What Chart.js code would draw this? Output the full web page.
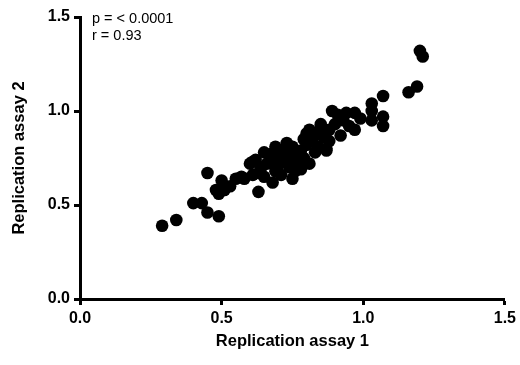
<!DOCTYPE html>
<html>
<head>
<meta charset="utf-8">
<script src="https://cdn.jsdelivr.net/npm/chart.js@4"></script>
<style>
  html, body { margin: 0; padding: 0; background: #fff; }
  #wrap { width: 520px; height: 365px; }
</style>
</head>
<body>
<div id="wrap"><canvas id="grafico"></canvas></div>
<script>
// valores
const assay1 = [0.29, 0.34, 0.40, 0.43, 0.45, 0.49, 0.45, 0.50, 0.48, 0.49, 0.51, 0.53, 0.55, 0.58, 0.61, 0.63,
  0.61, 0.62, 0.65, 0.65, 0.68, 0.69, 0.68, 0.69, 0.72, 0.73, 0.75, 0.76, 0.78, 0.79, 0.81, 0.81, 0.84, 0.85,
  0.87, 0.87, 0.88, 0.89, 0.92, 0.91, 0.94, 0.97, 0.97, 0.99, 1.03, 1.03, 1.03, 1.07, 1.07, 1.07, 1.16, 1.19,
  1.20, 1.21, 0.60, 0.64, 0.66, 0.67, 0.70, 0.70, 0.71, 0.72, 0.74, 0.74, 0.75, 0.76, 0.77, 0.78, 0.79, 0.80,
  0.80, 0.82, 0.83, 0.84, 0.85, 0.86, 0.88, 0.90, 0.93, 0.95, 0.57, 0.63, 0.73];
const assay2 = [0.39, 0.42, 0.51, 0.51, 0.46, 0.44, 0.67, 0.63, 0.58, 0.56, 0.58, 0.60, 0.64, 0.64, 0.66, 0.57,
  0.73, 0.74, 0.65, 0.78, 0.62, 0.68, 0.75, 0.81, 0.74, 0.83, 0.64, 0.76, 0.69, 0.85, 0.72, 0.90, 0.81, 0.93,
  0.79, 0.80, 0.90, 1.00, 0.87, 0.98, 0.99, 0.99, 0.90, 0.96, 1.04, 1.00, 0.95, 0.97, 0.92, 1.08, 1.10, 1.13,
  1.32, 1.29, 0.72, 0.70, 0.72, 0.77, 0.71, 0.77, 0.66, 0.79, 0.70, 0.78, 0.81, 0.68, 0.73, 0.79, 0.75, 0.82,
  0.88, 0.85, 0.78, 0.88, 0.91, 0.86, 0.84, 0.93, 0.95, 0.92, 0.65, 0.67, 0.73];
const xTicks = [0.0, 0.5, 1.0, 1.5];
const yTicks = [0.0, 0.5, 1.0, 1.5];
const anotacoes = ['p = < 0.0001', 'r = 0.93'];

let pontos = [];
for (let i = 0; i < assay1.length; i++) {
  pontos.push({x: assay1[i], y: assay2[i]});
}

/* texto de estatistica no canto */
const textoStats = {
  id: 'textoStats',
  afterDraw(chart) {
    const c = chart.ctx;
    const area = chart.chartArea;
    c.save();
    c.fillStyle = '#000';
    c.font = '14.5px "Liberation Sans", Arial, sans-serif';
    c.textBaseline = 'middle';
    for (let i = 0; i < anotacoes.length; i++) {
      c.fillText(anotacoes[i], area.left + 12, area.top + 2 + i * 17);
    }
    c.restore();
  }
};

const fonteTick = {family: '"Liberation Sans", Arial, sans-serif', size: 16, weight: 'bold'};
const fonteTitulo = {family: '"Liberation Sans", Arial, sans-serif', size: 16.5, weight: 'bold'};

new Chart(document.getElementById('grafico'), {
  type: 'scatter',
  data: {
    datasets: [{
      data: pontos,
      backgroundColor: '#000',
      borderColor: '#000',
      pointRadius: 6.3,
      pointHoverRadius: 6.3,
      borderWidth: 0
    }]
  },
  options: {
    responsive: true,
    maintainAspectRatio: false,
    animation: false,
    events: [],
    layout: { padding: {top: 17, right: 15, left: 0, bottom: 0} },
    plugins: { legend: {display: false}, tooltip: {enabled: false} },
    scales: {
      x: {
        min: 0, max: 1.5,
        afterBuildTicks: axis => { axis.ticks = xTicks.map(v => ({value: v})); },
        afterFit: axis => { axis.height = 66; },
        ticks: { color: '#000', font: fonteTick, padding: 4, callback: v => v.toFixed(1), maxRotation: 0 },
        grid: { display: true, drawOnChartArea: false, color: '#000', tickLength: 6, tickWidth: 3 },
        border: { color: '#000', width: 3 },
        title: { display: true, text: 'Replication assay 1', color: '#000', font: fonteTitulo, padding: {top: 0, bottom: 14} }
      },
      y: {
        min: 0, max: 1.5,
        afterBuildTicks: axis => { axis.ticks = yTicks.map(v => ({value: v})); },
        afterFit: axis => { axis.width = 80; },
        ticks: { color: '#000', font: fonteTick, padding: 4, callback: v => v.toFixed(1) },
        grid: { display: true, drawOnChartArea: false, color: '#000', tickLength: 6, tickWidth: 3 },
        border: { color: '#000', width: 3 },
        title: { display: true, text: 'Replication assay 2', color: '#000', font: fonteTitulo, padding: {top: 10, bottom: 0} }
      }
    }
  },
  plugins: [textoStats]
});
</script>
</body>
</html>
